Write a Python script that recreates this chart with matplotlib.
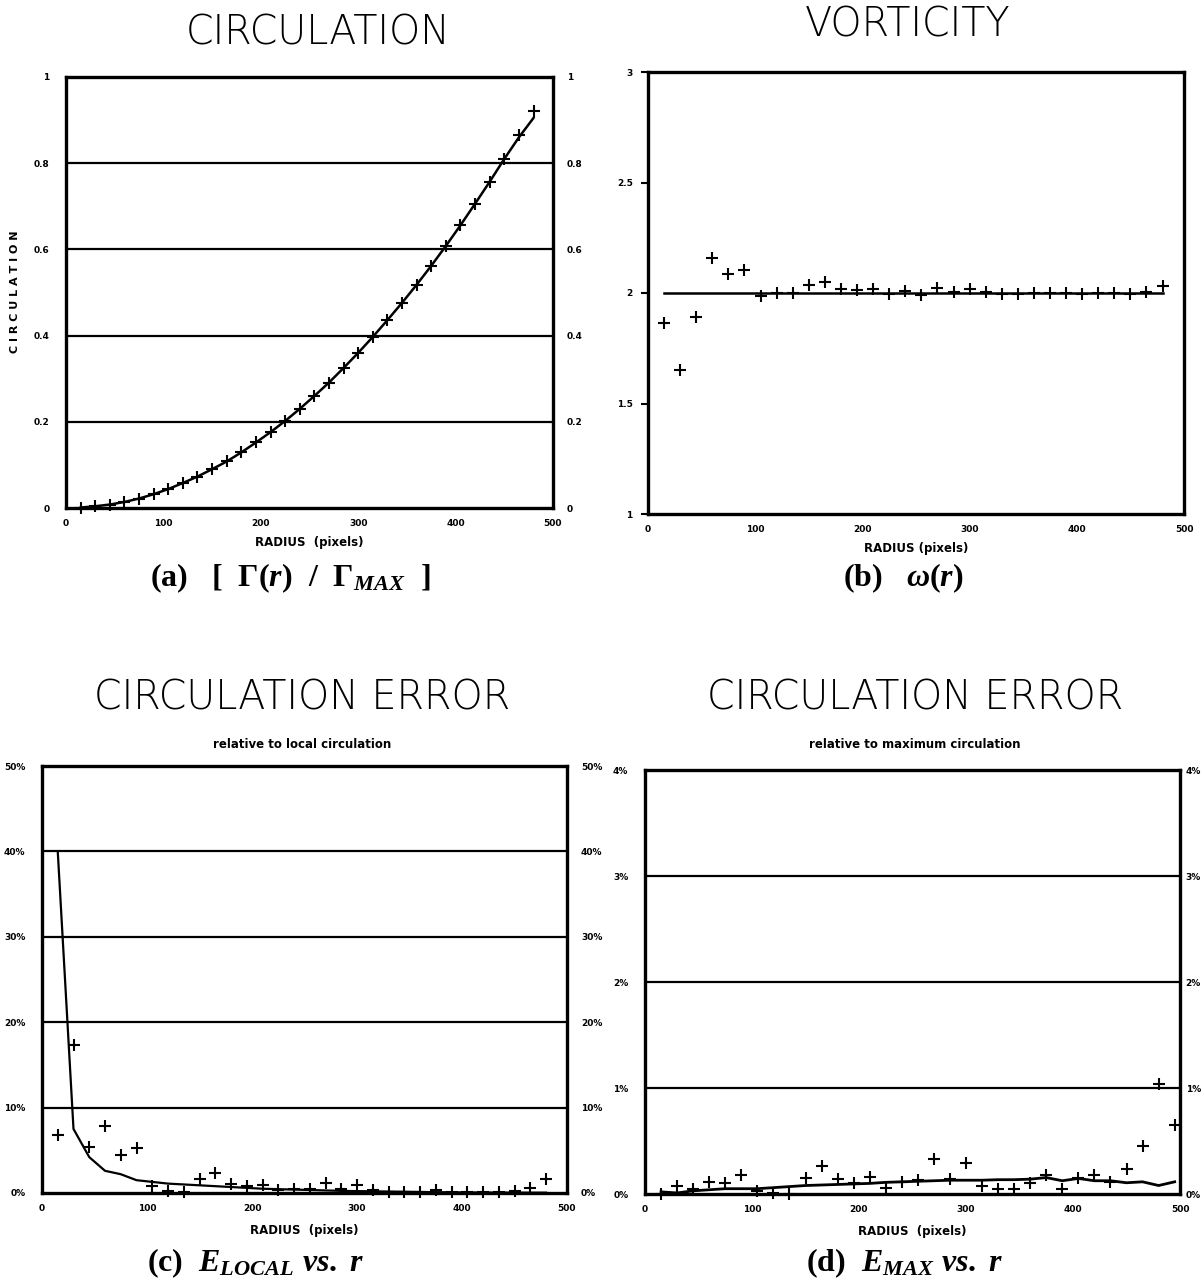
import matplotlib
matplotlib.use("Agg")
import matplotlib.pyplot as plt

plt.rcParams['font.family'] = ['DejaVu Sans']
plt.rcParams['mathtext.fontset'] = 'custom'
plt.rcParams['mathtext.rm'] = 'Liberation Serif:bold'
plt.rcParams['mathtext.it'] = 'Liberation Serif:bold:italic'
plt.rcParams['mathtext.bf'] = 'Liberation Serif:bold'

# ---------------- data ----------------
radius = [15, 30, 45, 60, 75, 90, 105, 120, 135, 150, 165, 180, 195, 210, 225, 240,
          255, 270, 285, 300, 315, 330, 345, 360, 375, 390, 405, 420, 435, 450, 465, 480]
radius_d = radius + [495]

circ_points = [0.001, 0.004, 0.008, 0.014, 0.022, 0.032, 0.044, 0.058, 0.073, 0.090,
               0.108, 0.129, 0.152, 0.176, 0.202, 0.230, 0.260, 0.291, 0.325, 0.360,
               0.397, 0.436, 0.476, 0.518, 0.562, 0.608, 0.656, 0.706, 0.757, 0.810,
               0.865, 0.921]
circ_line = [0.001, 0.004, 0.008, 0.014, 0.022, 0.032, 0.044, 0.058, 0.073, 0.090,
             0.108, 0.129, 0.152, 0.176, 0.202, 0.230, 0.260, 0.291, 0.325, 0.360,
             0.397, 0.436, 0.476, 0.518, 0.562, 0.608, 0.656, 0.706, 0.757, 0.810,
             0.860, 0.905]

vort_points = [1.864, 1.653, 1.891, 2.158, 2.087, 2.106, 1.988, 2.000, 2.000, 2.035,
               2.048, 2.020, 2.012, 2.018, 1.994, 2.009, 1.992, 2.024, 2.005, 2.017,
               2.003, 1.995, 1.994, 2.000, 2.000, 2.000, 1.995, 2.000, 2.000, 1.994,
               2.006, 2.030]
vort_line = [2.0, 2.0, 2.0, 2.0, 2.0, 2.0, 2.0, 2.0, 2.0, 2.0, 2.0, 2.0, 2.0, 2.0, 2.0, 2.0,
             2.0, 2.0, 2.0, 2.0, 2.0, 2.0, 2.0, 2.0, 2.0, 2.0, 2.0, 2.0, 2.0, 2.0, 2.0, 2.0]

elocal_points = [6.8, 17.3, 5.4, 7.9, 4.4, 5.3, 0.8, 0.2, 0.1, 1.6, 2.3, 1.0, 0.8, 0.9,
                 0.3, 0.5, 0.5, 1.2, 0.5, 0.9, 0.3, 0.15, 0.1, 0.1, 0.3, 0.1, 0.1, 0.1,
                 0.1, 0.2, 0.6, 1.6]
elocal_line = [40.0, 7.5, 4.2, 2.6, 2.2, 1.5, 1.3, 1.1, 1.0, 0.9, 0.8, 0.7, 0.6, 0.5,
               0.45, 0.4, 0.35, 0.3, 0.25, 0.22, 0.2, 0.17, 0.15, 0.12, 0.1, 0.08, 0.07,
               0.06, 0.05, 0.05, 0.04, 0.04]

emax_points = [0.0, 0.075, 0.05, 0.115, 0.105, 0.18, 0.03, 0.01, 0.0, 0.15, 0.26, 0.14,
               0.105, 0.16, 0.06, 0.115, 0.13, 0.33, 0.14, 0.29, 0.075, 0.05, 0.05, 0.10,
               0.18, 0.045, 0.155, 0.18, 0.115, 0.24, 0.45, 1.04, 0.65]
emax_line = [0.02, 0.01, 0.03, 0.04, 0.05, 0.05, 0.05, 0.06, 0.07, 0.08, 0.085, 0.09,
             0.095, 0.10, 0.11, 0.115, 0.12, 0.125, 0.13, 0.13, 0.13, 0.135, 0.135, 0.14,
             0.155, 0.125, 0.147, 0.125, 0.125, 0.106, 0.115, 0.08, 0.115]

x_ticks = [0, 100, 200, 300, 400, 500]
a_ticks = [0, 0.2, 0.4, 0.6, 0.8, 1]
a_labels = ['0', '0.2', '0.4', '0.6', '0.8', '1']
b_ticks = [1, 1.5, 2, 2.5, 3]
b_labels = ['1', '1.5', '2', '2.5', '3']
c_ticks = [0, 10, 20, 30, 40, 50]
c_labels = ['0%', '10%', '20%', '30%', '40%', '50%']
d_ticks = [0, 1, 2, 3, 4]
d_labels = ['0%', '1%', '2%', '3%', '4%']

# ---------------- figure ----------------
fig = plt.figure(figsize=(12.04, 12.82), dpi=100)

def fx(px):
    return px / 1204.0

def fy(py):
    return 1 - py / 1282.0

def make_ax(l, t, r, b):
    return fig.add_axes([fx(l), fy(b), fx(r) - fx(l), fy(t) - fy(b)])

tick_font = dict(fontsize=6.5, fontweight='bold')
mk = dict(marker='+', markersize=8, markeredgewidth=1.5, color='black', linestyle='none',
          clip_on=False)

def style(ax, yt, yl, grid, right_labels, ylim, rpad=10):
    ax.set_xlim(0, 500)
    ax.set_ylim(*ylim)
    for s in ax.spines.values():
        s.set_linewidth(2.4)
    ax.set_xticks(x_ticks)
    ax.set_xticklabels([str(v) for v in x_ticks], **tick_font)
    ax.set_yticks(yt)
    ax.set_yticklabels(yl, **tick_font)
    ax.tick_params(axis='x', length=0, pad=8)
    ax.tick_params(axis='y', length=0, pad=12)
    for g in grid:
        ax.axhline(g, color='black', lw=1.6, zorder=1)
    if right_labels:
        ax2 = ax.twinx()
        ax2.set_ylim(*ylim)
        ax2.set_yticks(yt)
        ax2.set_yticklabels(yl, **tick_font)
        ax2.tick_params(axis='y', length=0, pad=rpad)
        for s in ax2.spines.values():
            s.set_visible(False)

title_kw = dict(ha='center', va='center', fontsize=28.5, fontweight='light',
                fontfamily='DejaVu Sans')

# (a)
ax = make_ax(66, 77, 553, 508)
style(ax, a_ticks, a_labels, [0.2, 0.4, 0.6, 0.8], True, (0, 1))
ax.plot(radius, circ_line, color='black', lw=1.8, zorder=3)
ax.plot(radius, circ_points, zorder=4, **mk)
ax.set_xlabel('RADIUS  (pixels)', fontsize=8.5, fontweight='bold', labelpad=6)
fig.text(fx(15), fy(292), 'C I R C U L A T I O N', rotation=90, ha='center', va='center',
         fontsize=8, fontweight='bold')
fig.text(fx(318), fy(33), 'CIRCULATION', **title_kw)

# (b)
ax = make_ax(648, 72, 1184, 514)
style(ax, b_ticks, b_labels, [], False, (1, 3))
ax.tick_params(axis='y', length=5, width=1.5, pad=6, direction='out')
ax.plot(radius, vort_line, color='black', lw=1.8, zorder=3)
ax.plot(radius, vort_points, zorder=4, **mk)
ax.set_xlabel('RADIUS (pixels)', fontsize=8.5, fontweight='bold', labelpad=6)
fig.text(fx(908), fy(25), 'VORTICITY', **title_kw)

# (c)
ax = make_ax(42, 766, 567, 1193)
style(ax, c_ticks, c_labels, [10, 20, 30, 40], True, (0, 50))
ax.plot(radius, elocal_line, color='black', lw=1.6, zorder=3)
ax.plot(radius, elocal_points, zorder=4, **mk)
ax.set_xlabel('RADIUS  (pixels)', fontsize=8.5, fontweight='bold', labelpad=8)
fig.text(fx(302), fy(698), 'CIRCULATION ERROR', **title_kw)
fig.text(fx(302), fy(745), 'relative to local circulation', ha='center', va='center',
         fontsize=8.5, fontweight='bold')

# (d)
ax = make_ax(645, 770, 1180, 1194)
style(ax, d_ticks, d_labels, [1, 2, 3], True, (0, 4), rpad=4)
ax.plot(radius_d, emax_line, color='black', lw=2.0, zorder=3)
ax.plot(radius_d, emax_points, zorder=4, **mk)
ax.set_xlabel('RADIUS  (pixels)', fontsize=8.5, fontweight='bold', labelpad=8)
fig.text(fx(915), fy(698), 'CIRCULATION ERROR', **title_kw)
fig.text(fx(915), fy(745), 'relative to maximum circulation', ha='center', va='center',
         fontsize=8.5, fontweight='bold')

# captions
cap = dict(ha='center', va='center', fontsize=23, fontfamily='Liberation Serif',
           fontweight='bold')
fig.text(fx(290), fy(578), r'(a)   [  $\Gamma\mathit{(r)}$  /  $\Gamma_{\mathit{MAX}}$  ]', **cap)
fig.text(fx(903), fy(578), r'(b)   $\mathit{\omega(r)}$', **cap)
fig.text(fx(256), fy(1263), r'(c)  $\mathit{E_{LOCAL}}$ $\mathit{vs.\ r}$', **cap)
fig.text(fx(905), fy(1263), r'(d)  $\mathit{E_{MAX}}$ $\mathit{vs.\ r}$', **cap)

fig.savefig('out.png', dpi=100, facecolor='white')
